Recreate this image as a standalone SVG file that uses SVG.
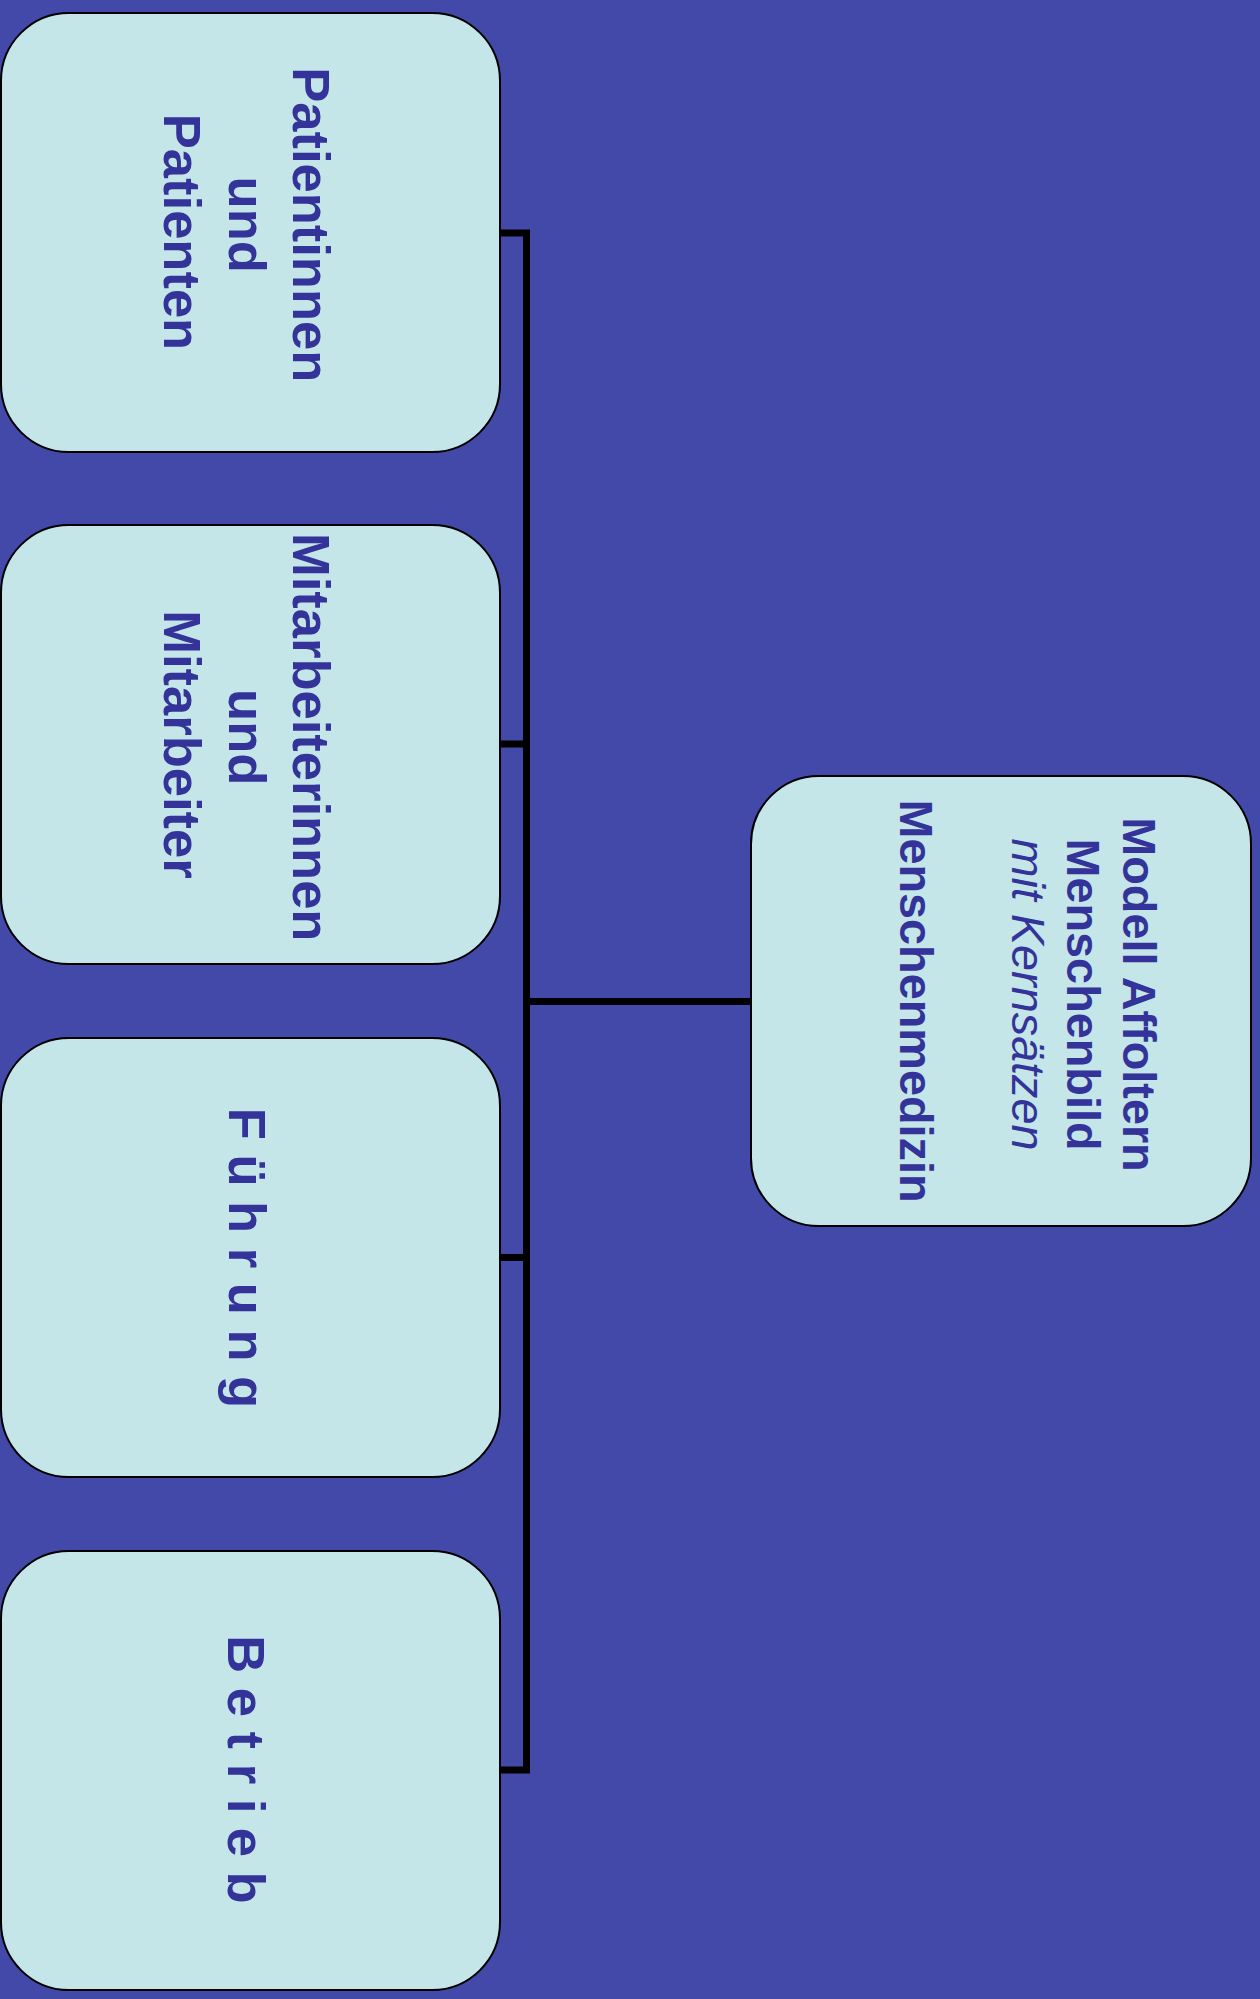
<svg xmlns="http://www.w3.org/2000/svg" width="1260" height="1999" viewBox="0 0 1260 1999">
  <style>
    .box { fill: #C4E6E8; stroke: #000000; stroke-width: 2; }
    .lbl { font-family: "Liberation Sans", Arial, sans-serif; font-weight: bold; fill: #333399; text-anchor: middle; }
    .l52 { font-size: 52.5px; }
    .l47 { font-size: 46.8px; }
    .it { font-weight: normal; font-style: italic; }
    .wire { fill: none; stroke: #000000; stroke-width: 7; stroke-linejoin: miter; stroke-linecap: butt; }
  </style>

  <!-- background -->
  <rect x="0" y="0" width="1260" height="1999" fill="#4349A8"/>

  <!-- connectors -->
  <g id="connectors">
    <path class="wire" d="M500,233 H526.5 V1770 H500"/>
    <path class="wire" d="M526.5,744 H500"/>
    <path class="wire" d="M526.5,1257.5 H500"/>
    <path class="wire" d="M526.5,1001.5 H751"/>
  </g>

  <!-- root node -->
  <g id="node-modell">
    <rect class="box" x="751" y="776" width="500" height="450" rx="68" ry="68"/>
    <text class="lbl l47" transform="translate(0,1001) rotate(90)">
      <tspan x="0" y="-1122.7">Modell Affoltern</tspan>
      <tspan x="0" y="-1066.7">Menschenbild</tspan>
      <tspan x="0" y="-1011.7" class="it">mit Kernsätzen</tspan>
      <tspan x="0" y="-900">Menschenmedizin</tspan>
    </text>
  </g>

  <!-- child nodes -->
  <g id="node-patienten">
    <rect class="box" x="1" y="13" width="499" height="439" rx="68" ry="68"/>
    <text class="lbl l52" transform="translate(0,232) rotate(90)">
      <tspan x="0" y="-293">Patientinnen</tspan>
      <tspan x="0" y="-228.6">und</tspan>
      <tspan x="0" y="-164">Patienten</tspan>
    </text>
  </g>

  <g id="node-mitarbeiter">
    <rect class="box" x="1" y="525" width="499" height="439" rx="68" ry="68"/>
    <text class="lbl l52" transform="translate(0,744.5) rotate(90)">
      <tspan x="0" y="-293">Mitarbeiterinnen</tspan>
      <tspan x="0" y="-228.6">und</tspan>
      <tspan x="0" y="-164">Mitarbeiter</tspan>
    </text>
  </g>

  <g id="node-fuehrung">
    <rect class="box" x="1" y="1038" width="499" height="439" rx="68" ry="68"/>
    <text class="lbl l52" transform="translate(0,1258) rotate(90)" x="0" y="-228.6">F ü h r u n g</text>
  </g>

  <g id="node-betrieb">
    <rect class="box" x="1" y="1551" width="499" height="439" rx="68" ry="68"/>
    <text class="lbl l52" transform="translate(0,1769.5) rotate(90)" x="0" y="-228">B e t r i e b</text>
  </g>
</svg>
